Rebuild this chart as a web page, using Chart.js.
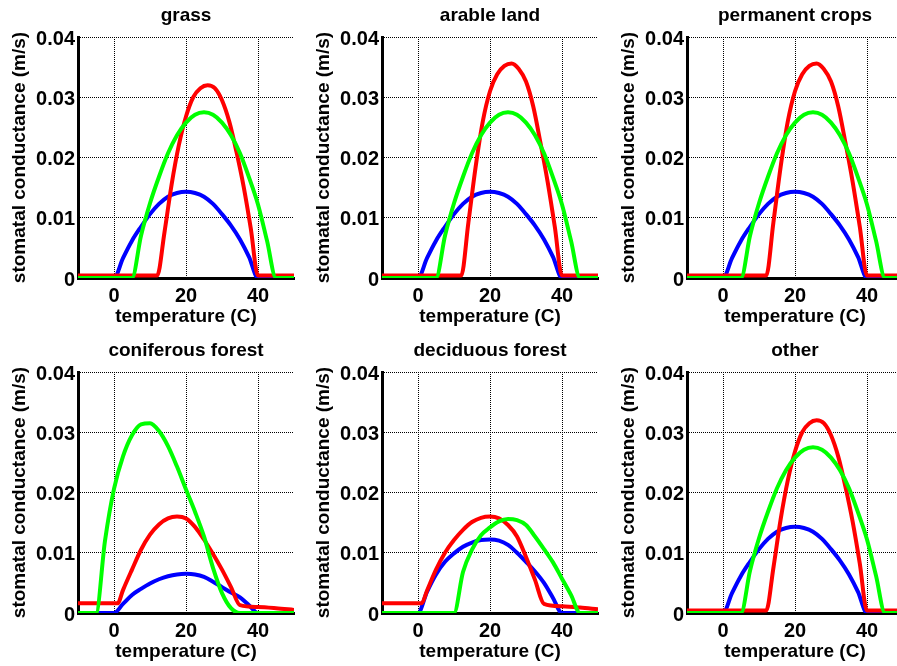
<!DOCTYPE html>
<html>
<head>
    <title>Stomatal conductance vs temperature</title>
    <script src="https://cdn.jsdelivr.net/npm/chart.js"></script>
    <style>
        body { margin: 0; background: #fff; }
        #page { position: relative; width: 897px; height: 666px; overflow: hidden; }
        .panel { position: absolute; width: 300px; height: 333px; }
    </style>
</head>
<body>
    <div id="page"></div>

    <script>
        const xTicks = [0, 20, 40];
        const yTicks = [0, 0.01, 0.02, 0.03, 0.04];

        // crops (grass, arable land, permanent crops, other)
        const cropRedT = [-10, 12, 14, 16, 18, 20, 22, 24, 26, 28, 30, 32, 34, 36, 38, 40, 50];
        const grassRed = [0.0004, 0.0004, 0.0075, 0.0155, 0.022, 0.0268, 0.0300, 0.0315, 0.032, 0.0315, 0.0295, 0.026, 0.021, 0.0152, 0.0082, 0.0004, 0.0004];
        const arableRed = [0.0004, 0.0004, 0.0092, 0.0184, 0.026, 0.031, 0.0338, 0.0352, 0.0356, 0.0347, 0.0326, 0.0285, 0.0225, 0.016, 0.0085, 0.0004, 0.0004];

        const cropGreenT = [-10, 5, 7.5, 10, 12.5, 15, 17.5, 20, 22.5, 25, 27.5, 30, 32.5, 35, 37.5, 40, 42.5, 45, 50];
        const cropGreen = [0, 0, 0.007, 0.0124, 0.0168, 0.0207, 0.0237, 0.0258, 0.0271, 0.0275, 0.0271, 0.0258, 0.0237, 0.0207, 0.0167, 0.0122, 0.0062, 0, 0];

        const blueT = [-10, 0, 2.5, 5, 7.5, 10, 12.5, 15, 17.5, 20, 22.5, 25, 27.5, 30, 32.5, 35, 37.5, 40, 50];
        const cropBlue = [0, 0, 0.0033, 0.0062, 0.0085, 0.0106, 0.0123, 0.0135, 0.0141, 0.0143, 0.0141, 0.0135, 0.0123, 0.0106, 0.0087, 0.0064, 0.0035, 0, 0];

        // forests
        const forestRedT = [-10, 1, 2.5, 5, 7.5, 10, 12.5, 15, 17.5, 20, 22.5, 25, 27.5, 30, 32.5, 35, 40, 45, 50];
        const coniferRed = [0.0016, 0.0016, 0.0038, 0.0072, 0.0105, 0.013, 0.0147, 0.0157, 0.016, 0.0157, 0.0143, 0.0122, 0.0098, 0.0072, 0.0043, 0.0013, 0.001, 0.0008, 0.0005];
        const deciduRed = [0.0016, 0.0016, 0.0037, 0.0072, 0.01, 0.0121, 0.0138, 0.0151, 0.0158, 0.016, 0.0157, 0.0146, 0.0127, 0.0093, 0.0055, 0.0015, 0.0011, 0.0009, 0.0006];

        const coniferGreenT = [-10, -5, -2.5, 0, 2.5, 5, 7.5, 10, 12.5, 15, 17.5, 20, 22.5, 25, 27.5, 30, 32.5, 35, 50];
        const coniferGreen = [0, 0, 0.012, 0.0206, 0.026, 0.0295, 0.0313, 0.0315, 0.0302, 0.0277, 0.0243, 0.0205, 0.0168, 0.0127, 0.0075, 0.0033, 0.0008, 0, 0];

        const deciduGreenT = [-10, 10, 12.5, 15, 17.5, 20, 22.5, 25, 27.5, 30, 32.5, 35, 37.5, 40, 42.5, 45, 50];
        const deciduGreen = [0, 0, 0.0068, 0.0105, 0.0129, 0.0142, 0.0152, 0.0156, 0.0154, 0.0146, 0.0127, 0.0106, 0.0084, 0.0057, 0.003, 0, 0];

        const coniferBlue = [0, 0, 0.0015, 0.003, 0.004, 0.0049, 0.0056, 0.0061, 0.0064, 0.0065, 0.0064, 0.006, 0.0052, 0.0043, 0.0034, 0.0026, 0.0013, 0, 0];
        const deciduBlue = [0, 0, 0.0035, 0.0064, 0.0085, 0.0099, 0.011, 0.0117, 0.0121, 0.0122, 0.012, 0.0113, 0.01, 0.0085, 0.0069, 0.005, 0.0025, 0, 0];

        const panels = [
            { title: 'grass', red: [cropRedT, grassRed], green: [cropGreenT, cropGreen], blue: [blueT, cropBlue] },
            { title: 'arable land', red: [cropRedT, arableRed], green: [cropGreenT, cropGreen], blue: [blueT, cropBlue] },
            { title: 'permanent crops', red: [cropRedT, arableRed], green: [cropGreenT, cropGreen], blue: [blueT, cropBlue] },
            { title: 'coniferous forest', red: [forestRedT, coniferRed], green: [coniferGreenT, coniferGreen], blue: [blueT, coniferBlue] },
            { title: 'deciduous forest', red: [forestRedT, deciduRed], green: [deciduGreenT, deciduGreen], blue: [blueT, deciduBlue] },
            { title: 'other', red: [cropRedT, grassRed], green: [cropGreenT, cropGreen], blue: [blueT, cropBlue] }
        ];

        const colX = [0, 304, 609];
        const rowY = [0, 335];

        Chart.defaults.font.family = "'Liberation Sans', Arial, Helvetica, sans-serif";
        Chart.defaults.font.weight = 'bold';
        Chart.defaults.color = '#000';

        function pts(xs, ys) {
            return xs.map((x, i) => ({ x: x, y: ys[i] }));
        }

        function line(series, color) {
            return {
                data: pts(series[0], series[1]),
                xAxisID: 'x',
                yAxisID: 'y',
                borderColor: color,
                borderWidth: 4,
                pointRadius: 0,
                cubicInterpolationMode: 'monotone',
                fill: false
            };
        }

        function renderPanel(i, p) {
            const div = document.createElement('div');
            div.className = 'panel';
            div.style.left = colX[i % 3] + 'px';
            div.style.top = rowY[Math.floor(i / 3)] + 'px';
            const canvas = document.createElement('canvas');
            canvas.width = 300;
            canvas.height = 333;
            div.appendChild(canvas);
            document.getElementById('page').appendChild(div);

            new Chart(canvas.getContext('2d'), {
                type: 'line',
                data: {
                    // first dataset is drawn on top
                    datasets: [line(p.green, '#00ff00'), line(p.red, '#ff0000'), line(p.blue, '#0000ff')]
                },
                options: {
                    responsive: false,
                    animation: false,
                    devicePixelRatio: 1,
                    layout: { padding: { left: 0, right: 6, top: 0, bottom: 0 } },
                    plugins: { legend: { display: false }, tooltip: { enabled: false } },
                    scales: {
                        x: {
                            type: 'linear',
                            position: 'bottom',
                            min: -10,
                            max: 50,
                            afterBuildTicks: s => { s.ticks = xTicks.map(v => ({ value: v })); },
                            afterFit: s => { s.height = 55; },
                            ticks: { font: { size: 20 }, padding: 6, maxRotation: 0 },
                            grid: { color: '#000', lineWidth: 1, drawTicks: false },
                            border: { color: '#000', width: 3, dash: [1, 1] },
                            title: { display: true, text: 'temperature (C)', font: { size: 19, weight: 'bold' }, padding: { top: 0, bottom: 5 } }
                        },
                        y: {
                            type: 'linear',
                            position: 'left',
                            min: 0,
                            max: 0.04,
                            afterBuildTicks: s => { s.ticks = yTicks.map(v => ({ value: v })); },
                            afterFit: s => { s.width = 78; },
                            ticks: { font: { size: 20 }, padding: 3, labelOffset: 2, callback: v => v === 0 ? '0' : v.toFixed(2) },
                            grid: { color: '#000', lineWidth: 1, drawTicks: false },
                            border: { color: '#000', width: 3, dash: [1, 1] },
                            title: { display: true, text: 'stomatal conductance (m/s)', font: { size: 19, weight: 'bold' }, padding: { top: 8, bottom: 0 } }
                        },
                        xTop: {
                            axis: 'x',
                            type: 'linear',
                            position: 'top',
                            afterFit: s => { s.height = 37; },
                            ticks: { display: false },
                            grid: { display: false },
                            border: { display: false },
                            title: { display: true, text: p.title, font: { size: 19, weight: 'bold' }, padding: { top: 4, bottom: 0 } }
                        }
                    }
                }
            });
        }

        panels.forEach((p, i) => renderPanel(i, p));
    </script>
</body>
</html>
